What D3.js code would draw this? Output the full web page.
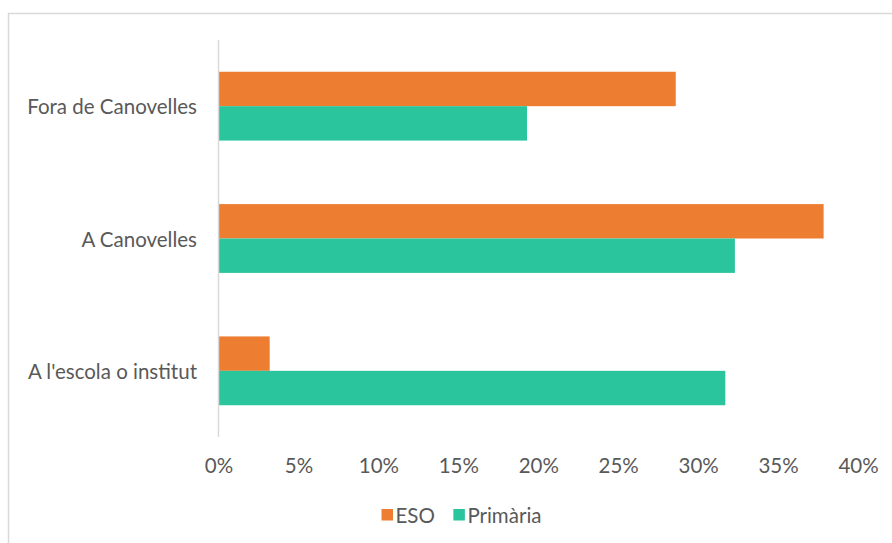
<!DOCTYPE html>
<html>
<head>
<meta charset="utf-8">
<script src="https://cdn.jsdelivr.net/npm/d3@7"></script>
<style>
  html, body { margin: 0; padding: 0; background: #ffffff; }
  svg { display: block; }
  text { font-family: Lato, "Open Sans", sans-serif; fill: #595959; }
</style>
</head>
<body>
<svg id="chart" width="892" height="543"></svg>
<script>
const categories = ["Fora de Canovelles", "A Canovelles", "A l'escola o institut"];
const seriesNames = ["ESO", "Primària"];
const esoValues = [0.286, 0.3785, 0.032];
const primariaValues = [0.193, 0.323, 0.317];
const tickValues = [0, 0.05, 0.10, 0.15, 0.20, 0.25, 0.30, 0.35, 0.40];
const colors = ["#ED7D31", "#2BC59D"];

const svg = d3.select("#chart");
const FS = "20.5px";

// outer chart border
svg.append("rect")
  .attr("x", 8.5).attr("y", 13.5)
  .attr("width", 900).attr("height", 600)
  .attr("fill", "none").attr("stroke", "#d9d9d9").attr("stroke-width", 1.5);

const plot = { left: 218.5, right: 858, top: 40, bottom: 437 };

const x = d3.scaleLinear().domain([0, 0.40]).range([plot.left, plot.right]);
const y = d3.scaleBand().domain(categories).range([plot.top, plot.bottom])
  .paddingInner(0.48).paddingOuter(0.24);
const ySub = d3.scaleBand().domain(seriesNames).range([0, y.bandwidth()]);

const data = categories.map((c, i) => ({
  cat: c,
  vals: [
    { s: seriesNames[0], v: esoValues[i], color: colors[0] },
    { s: seriesNames[1], v: primariaValues[i], color: colors[1] }
  ]
}));

const groups = svg.append("g").selectAll("g").data(data).join("g")
  .attr("transform", d => `translate(0,${y(d.cat)})`);

groups.selectAll("rect").data(d => d.vals).join("rect")
  .attr("x", x(0))
  .attr("y", d => ySub(d.s))
  .attr("width", d => x(d.v) - x(0))
  .attr("height", ySub.bandwidth())
  .attr("fill", d => d.color);

// vertical category axis line
svg.append("line")
  .attr("x1", x(0)).attr("x2", x(0))
  .attr("y1", plot.top).attr("y2", plot.bottom)
  .attr("stroke", "#d9d9d9").attr("stroke-width", 1.5);

// category labels
svg.append("g").selectAll("text").data(categories).join("text")
  .attr("x", 197)
  .attr("y", d => y(d) + y.bandwidth() / 2)
  .attr("text-anchor", "end")
  .attr("dominant-baseline", "central")
  .style("font-size", FS)
  .text(d => d);

// x axis tick labels
const xAxis = d3.axisBottom(x).tickValues(tickValues).tickFormat(d3.format(".0%")).tickSize(0).tickPadding(0);
const gx = svg.append("g").attr("transform", `translate(0,${466})`).call(xAxis);
gx.select(".domain").remove();
gx.selectAll("text")
  .attr("dy", "0.35em").attr("y", 0)
  .style("font-size", FS)
  .style("font-family", "Lato, 'Open Sans', sans-serif")
  .attr("fill", "#595959");

// legend (laid out from measured text widths, centred)
const legend = svg.append("g");
const sq = 11.5, gapSq = 2.5, gapItem = 18.5;
const li = legend.selectAll("g").data(seriesNames.map((n, i) => ({ name: n, color: colors[i] })))
  .join("g");
li.append("rect").attr("x", 0).attr("y", -6).attr("width", sq).attr("height", sq)
  .attr("fill", d => d.color);
li.append("text").attr("x", sq + gapSq).attr("y", 0).attr("dominant-baseline", "central")
  .style("font-size", FS).text(d => d.name);
let cx = 0;
li.each(function () {
  const w = sq + gapSq + d3.select(this).select("text").node().getComputedTextLength();
  d3.select(this).attr("transform", `translate(${cx},515)`);
  cx += w + gapItem;
});
const total = cx - gapItem;
legend.attr("transform", `translate(${461.5 - total / 2},0)`);
</script>
</body>
</html>
